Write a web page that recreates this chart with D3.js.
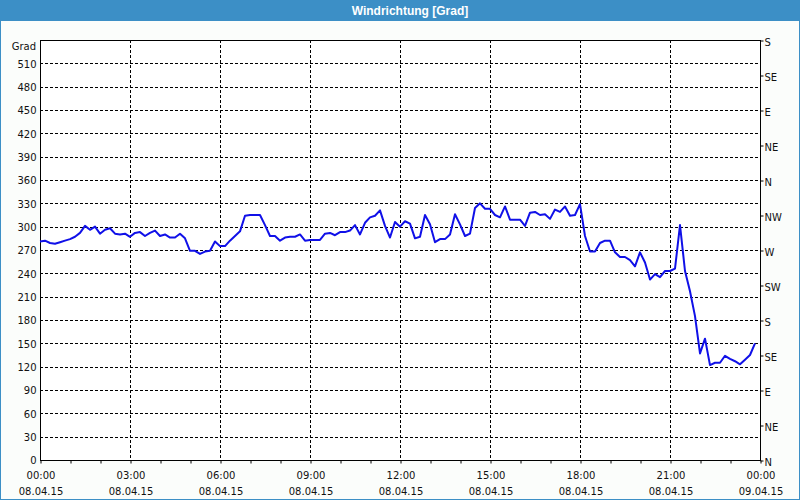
<!DOCTYPE html>
<html lang="de">
<head>
  <meta charset="UTF-8">
  <title>Windrichtung [Grad]</title>
  <script src="https://cdnjs.cloudflare.com/ajax/libs/d3/7.8.5/d3.min.js"></script>
  <style>
    body { margin: 0; background: #fbfdfb; }
    svg { display: block; }
    text { font-family: "DejaVu Sans", Verdana, sans-serif; font-size: 10px; fill: #111; }
  </style>
</head>
<body>
  <script>
    // 10-minute readings, 08.04.15 00:00 .. 23:50
    var startTime = new Date(2015, 3, 8, 0, 0);
    var endTime = new Date(2015, 3, 9, 0, 0);
    var stepMinutes = 10;

    var direction = [
      281, 282, 279, 278, 280, 282, 284, 287, 292, 301, 296, 300,
      291, 296, 298, 291, 290, 291, 287, 292, 293, 288, 292, 295,
      288, 290, 286, 286, 291, 285, 269, 269, 265, 268, 269, 281,
      275, 275, 282, 288, 294, 314, 315, 315, 315, 302, 288, 288,
      282, 286, 287, 287, 290, 282, 283, 283, 283, 291, 292, 289,
      293, 293, 295, 302, 290, 305, 312, 314, 321, 301, 286, 306,
      300, 307, 304, 285, 287, 315, 303, 280, 284, 284, 290, 316,
      303, 288, 291, 324, 330, 323, 323, 315, 312, 326, 309, 309,
      309, 301, 318, 319, 315, 316, 310, 322, 319, 326, 314, 315,
      329, 288, 268, 268, 279, 282, 282, 267, 261, 261, 257, 249,
      267, 254, 232, 239, 235, 243, 243, 246, 302, 243, 217, 185,
      137, 156, 122, 125, 125, 134, 130, 127, 123, 129, 135, 150
    ];

    var leftTicks = [30, 60, 90, 120, 150, 180, 210, 240, 270, 300, 330, 360, 390, 420, 450, 480, 510];
    var leftLabels = [0].concat(leftTicks);
    var compassDeg = [0, 45, 90, 135, 180, 225, 270, 315, 360, 405, 450, 495, 540];
    var compassLabels = ["N", "NE", "E", "SE", "S", "SW", "W", "NW", "N", "NE", "E", "SE", "S"];
    var labelHours = [0, 3, 6, 9, 12, 15, 18, 21, 24];

    var w = 800, h = 500;
    var plotLeft = 40, plotRight = 760, plotTop = 40, plotBottom = 460;

    var data = direction.map(function(v, i) {
      return { t: d3.timeMinute.offset(startTime, i * stepMinutes), v: v };
    });

    var svg = d3.select("body").append("svg")
      .attr("width", w)
      .attr("height", h);

    svg.append("rect")
      .attr("x", 0.5).attr("y", 0.5)
      .attr("width", w - 1).attr("height", h - 1)
      .attr("fill", "#fbfdfb")
      .attr("stroke", "#3c8fc6");

    svg.append("rect")
      .attr("x", 0).attr("y", 0)
      .attr("width", w).attr("height", 21)
      .attr("fill", "#3c8fc6");

    svg.append("text")
      .attr("x", 410).attr("y", 11)
      .attr("text-anchor", "middle")
      .attr("dominant-baseline", "central")
      .style("font-family", "'Liberation Sans', Arial, sans-serif")
      .style("font-size", "12px")
      .style("font-weight", "bold")
      .style("fill", "#ffffff")
      .text("Windrichtung [Grad]");

    var xScale = d3.scaleTime()
      .domain([startTime, endTime])
      .range([plotLeft, plotRight]);

    var yScale = d3.scaleLinear()
      .domain([0, 540])
      .range([plotBottom, plotTop]);

    svg.append("rect")
      .attr("x", plotLeft).attr("y", plotTop)
      .attr("width", plotRight - plotLeft).attr("height", plotBottom - plotTop)
      .attr("fill", "#ffffff");

    // grid
    svg.append("g").selectAll("line")
      .data(leftTicks)
      .enter()
      .append("line")
      .attr("x1", plotLeft).attr("x2", plotRight)
      .attr("y1", function(d) { return Math.round(yScale(d)) + 0.5; })
      .attr("y2", function(d) { return Math.round(yScale(d)) + 0.5; })
      .attr("stroke", "#000")
      .attr("stroke-dasharray", "3,2");

    svg.append("g").selectAll("line")
      .data(labelHours.slice(1, -1))
      .enter()
      .append("line")
      .attr("x1", function(d) { return xScale(d3.timeHour.offset(startTime, d)) + 0.5; })
      .attr("x2", function(d) { return xScale(d3.timeHour.offset(startTime, d)) + 0.5; })
      .attr("y1", plotTop).attr("y2", plotBottom)
      .attr("stroke", "#000")
      .attr("stroke-dasharray", "3,2");

    // axes
    var leftAxis = d3.axisLeft(yScale)
      .tickValues(leftLabels)
      .tickSize(0)
      .tickPadding(4)
      .tickFormat(d3.format("d"));
    var gl = svg.append("g")
      .attr("transform", "translate(" + (plotLeft + 0.5) + ",0.5)")
      .call(leftAxis);
    gl.select(".domain").remove();
    gl.selectAll("text").attr("font-family", null).attr("font-size", null);

    svg.append("text")
      .attr("x", 36).attr("y", 46)
      .attr("text-anchor", "end")
      .attr("dominant-baseline", "central")
      .text("Grad");

    var rightAxis = d3.axisRight(yScale)
      .tickValues(compassDeg)
      .tickSize(3)
      .tickPadding(1)
      .tickFormat(function(d, i) { return compassLabels[i]; });
    var gr = svg.append("g")
      .attr("transform", "translate(" + (plotRight + 0.5) + ",0.5)")
      .call(rightAxis);
    gr.select(".domain").remove();
    gr.selectAll("line").attr("stroke", "#000");
    gr.selectAll("text").attr("font-family", null).attr("font-size", null).attr("dy", "0.45em");

    var bottomAxis = d3.axisBottom(xScale)
      .ticks(d3.timeHour.every(1))
      .tickSize(3)
      .tickFormat("");
    var gb = svg.append("g")
      .attr("transform", "translate(0.5," + (plotBottom + 0.5) + ")")
      .call(bottomAxis);
    gb.select(".domain").remove();
    gb.selectAll("line").attr("stroke", "#000");

    var timeFmt = d3.timeFormat("%H:%M");
    var dateFmt = d3.timeFormat("%d.%m.%y");
    var xl = svg.append("g").selectAll("text")
      .data(labelHours)
      .enter()
      .append("text")
      .attr("text-anchor", "middle")
      .attr("transform", function(d) {
        return "translate(" + (xScale(d3.timeHour.offset(startTime, d)) + 1) + ",0)";
      });
    xl.append("tspan")
      .attr("x", 0).attr("y", 479)
      .text(function(d) { return timeFmt(d3.timeHour.offset(startTime, d)); });
    xl.append("tspan")
      .attr("x", 0).attr("y", 495)
      .text(function(d) { return dateFmt(d3.timeHour.offset(startTime, d)); });

    // frame
    svg.append("rect")
      .attr("x", plotLeft + 0.5).attr("y", plotTop + 0.5)
      .attr("width", plotRight - plotLeft).attr("height", plotBottom - plotTop)
      .attr("fill", "none")
      .attr("stroke", "#000");

    var line = d3.line()
      .x(function(d) { return xScale(d.t); })
      .y(function(d) { return yScale(d.v); });

    svg.append("path")
      .datum(data)
      .attr("d", line)
      .attr("fill", "none")
      .attr("stroke", "#1010e8")
      .attr("stroke-width", 2)
      .attr("stroke-linejoin", "round");
  </script>
</body>
</html>
